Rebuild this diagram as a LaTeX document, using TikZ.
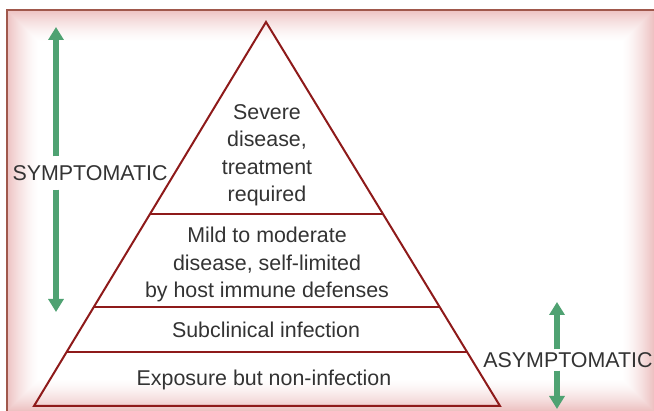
\documentclass[tikz,border=0pt]{standalone}
\usepackage{fontspec}
\setmainfont{Liberation Sans}
\usetikzlibrary{arrows.meta,calc,positioning}
\definecolor{pyramidred}{HTML}{8E1A1A}
\definecolor{arrowgreen}{HTML}{4FA272}
\definecolor{framepink}{HTML}{EDC2C2}
\definecolor{framebrown}{HTML}{A0584C}
\definecolor{labelgray}{HTML}{333333}
\tikzset{
  pyramid/.style={line width=2pt,pyramidred,line join=miter},
  tierline/.style={line width=1.8pt,pyramidred},
  greenarrow/.style={-{Triangle[width=15pt,length=13pt]},line width=6pt,arrowgreen},
  tiertext/.style={align=center,inner sep=0pt,text=labelgray,font=\fontsize{21.4}{27.5}\selectfont},
  sidelabel/.style={inner sep=0pt,text=labelgray,font=\fontsize{21.4}{27.5}\selectfont}
}

\begin{document}
\begin{tikzpicture}[x=1pt,y=-1pt]
  \useasboundingbox (0,0) rectangle (654,411);
  % pink glowing frame
  \foreach \i [evaluate=\i as \p using {100*((32-\i)/32)^1.5}] in {0,...,32}
    \fill[framepink!\p!white] (7+\i,10+\i) rectangle (654-\i,411-\i);
  \draw[framebrown,line width=2pt] (6,10) -- (654,10);
  \draw[framebrown,line width=1.2pt] (7,10) -- (7,411);
  % pyramid
  \coordinate (apex) at (266,22);
  \coordinate (baseL) at (34,406);
  \coordinate (baseR) at (500,406);
  \draw[pyramid] (apex) -- (baseL) -- (baseR) -- cycle;
  \foreach \t in {0.499,0.742,0.860}
    \draw[tierline] ($(apex)!\t!(baseL)$) -- ($(apex)!\t!(baseR)$);
  \node[tiertext] (severe) at (267,155.5) {Severe\\disease,\\treatment\\required};
  \node[tiertext] (mild) at (267,264.5) {Mild to moderate\\disease, self-limited\\by host immune defenses};
  \node[tiertext] (subclin) at (266,330) {Subclinical infection};
  \node[tiertext] (exposure) at (264,380) {Exposure but non-infection};
  % side labels and arrows
  \node[sidelabel,outer ysep=9pt] (symp) at (90,173) {SYMPTOMATIC};
  \coordinate (symptop) at (56,27);
  \coordinate (sympbot) at (56,312);
  \draw[greenarrow] (symp.north -| symptop) -- (symptop);
  \draw[greenarrow] (symp.south -| sympbot) -- (sympbot);
  \node[sidelabel,outer ysep=3pt] (asymp) at (568,360) {ASYMPTOMATIC};
  \coordinate (asymptop) at (557,302);
  \coordinate (asympbot) at (557,409);
  \draw[greenarrow] (asymp.north -| asymptop) -- (asymptop);
  \draw[greenarrow] (asymp.south -| asympbot) -- (asympbot);
\end{tikzpicture}
\end{document}
